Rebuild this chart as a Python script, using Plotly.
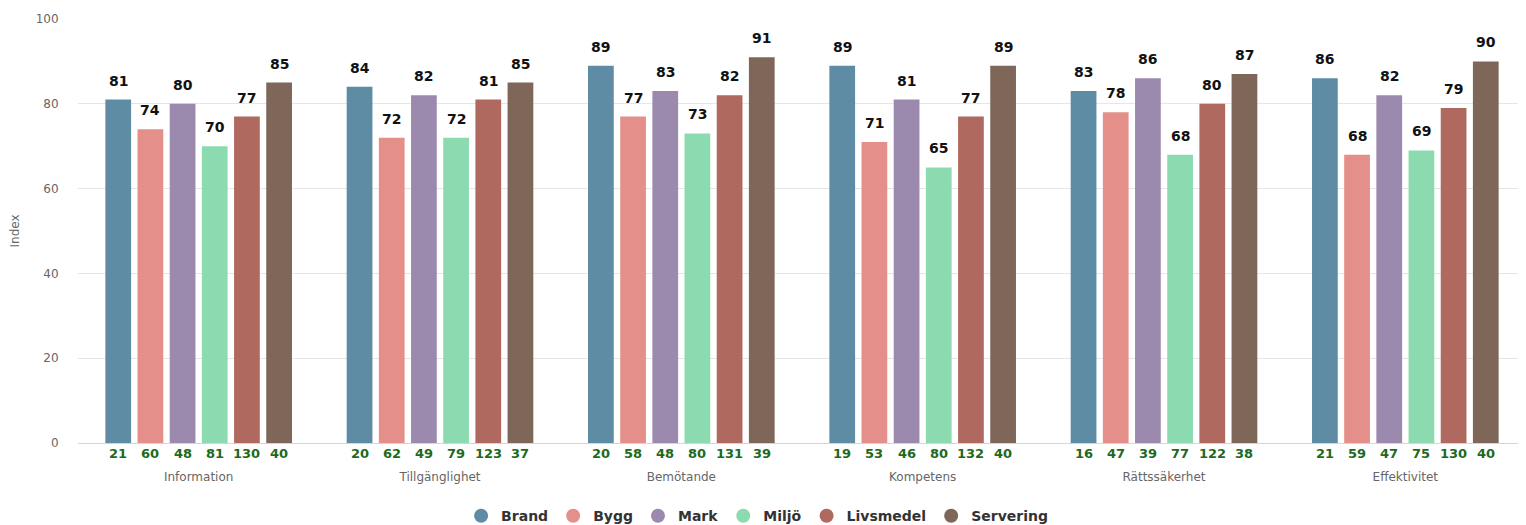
import plotly.graph_objects as go

categories = ["Information", "Tillgänglighet", "Bemötande", "Kompetens", "Rättssäkerhet", "Effektivitet"]
series_names = ["Brand", "Bygg", "Mark", "Miljö", "Livsmedel", "Servering"]
brand = [81, 84, 89, 89, 83, 86]
bygg = [74, 72, 77, 71, 78, 68]
mark = [80, 82, 83, 81, 86, 82]
miljo = [70, 72, 73, 65, 68, 69]
livsmedel = [77, 81, 82, 77, 80, 79]
servering = [85, 85, 91, 89, 87, 90]
n_brand = [21, 20, 20, 19, 16, 21]
n_bygg = [60, 62, 58, 53, 47, 59]
n_mark = [48, 49, 48, 46, 39, 47]
n_miljo = [81, 79, 80, 80, 77, 75]
n_livsmedel = [130, 123, 131, 132, 122, 130]
n_servering = [40, 37, 39, 40, 38, 40]
y_ticks = [0, 20, 40, 60, 80, 100]

colors = ["#5e8ca5", "#e58f8a", "#9c8aae", "#8cdbb0", "#b0695f", "#7e6759"]
values = [brand, bygg, mark, miljo, livsmedel, servering]
counts = [n_brand, n_bygg, n_mark, n_miljo, n_livsmedel, n_servering]

FONT = "DejaVu Sans"
bargap = 0.2
nser = len(series_names)
slot = (1 - bargap) / nser
xs = list(range(len(categories)))

fig = go.Figure()
annotations = []
for j, (name, vals, cnts, col) in enumerate(zip(series_names, values, counts, colors)):
    fig.add_trace(go.Bar(x=xs, y=vals, name=name, marker=dict(color=col, line=dict(width=0)),
                         showlegend=False, hoverinfo="y+name"))
    off = (j - (nser - 1) / 2) * slot
    for i, (v, c) in enumerate(zip(vals, cnts)):
        annotations.append(dict(x=i + off, y=v, xref="x", yref="y", text=f"<b>{v}</b>",
                                showarrow=False, yanchor="bottom", yshift=9,
                                font=dict(family=FONT, size=14, color="#111111")))
        annotations.append(dict(x=i + off, y=0, xref="x", yref="y", text=f"<b>{c}</b>",
                                showarrow=False, yanchor="top", yshift=-1,
                                font=dict(family=FONT, size=13, color="#1d6a1d")))
    fig.add_trace(go.Scatter(x=[None], y=[None], mode="markers", name=name,
                             marker=dict(symbol="circle", size=14, color=col)))

# page body has an 8px default margin; size the figure so it fills the 1526x525 window
fig.update_layout(
    width=1518, height=517,
    margin=dict(l=70, r=0, t=11, b=82, autoexpand=False),
    paper_bgcolor="white", plot_bgcolor="white",
    barmode="group", bargap=bargap, bargroupgap=0.2,
    font=dict(family=FONT, size=12, color="#666666"),
    annotations=annotations,
    legend=dict(orientation="h", x=0.469, xanchor="center", xref="paper",
                yref="container", y=0.017, yanchor="middle",
                font=dict(family=FONT, size=14, color="#333333", weight="bold"),
                traceorder="normal"),
    xaxis=dict(range=[-0.5, len(categories) - 0.5], tickvals=xs, ticktext=categories,
               showgrid=False, zeroline=False, showline=True, linecolor="#ccd6eb", linewidth=1,
               ticks="outside", ticklen=23, tickcolor="rgba(0,0,0,0)", automargin=False,
               tickfont=dict(family=FONT, size=12, color="#666666")),
    yaxis=dict(range=[0, 100], tickvals=y_ticks, showgrid=True, gridcolor="#e6e6e6",
               zeroline=False, ticks="outside", ticklen=16, tickcolor="rgba(0,0,0,0)",
               automargin=False,
               tickfont=dict(family=FONT, size=12, color="#666666"),
               title=dict(text="Index", font=dict(family=FONT, size=12, color="#666666"), standoff=14)),
)

fig.write_html("out.html")
